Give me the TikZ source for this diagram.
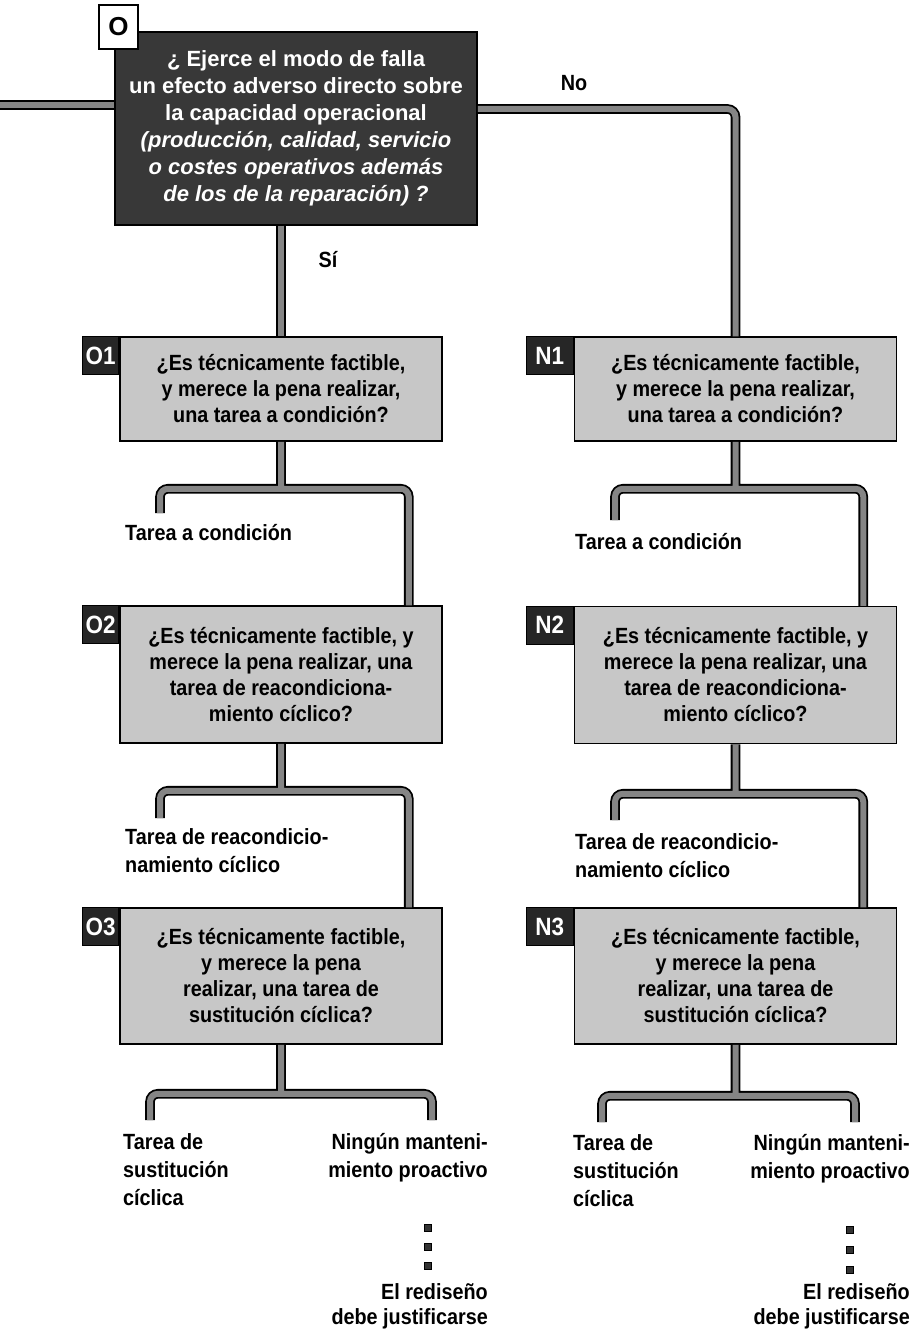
\documentclass[tikz,border=0pt]{standalone}
\usepackage{fontspec}
\setmainfont{Liberation Sans}[FakeStretch=0.9]
\newfontfamily\widefont{Liberation Sans}
\definecolor{topgray}{gray}{0.22}
\definecolor{boxgray}{gray}{0.78}
\definecolor{pipegray}{gray}{0.52}
\definecolor{taggray}{gray}{0.15}

\begin{document}
\begin{tikzpicture}[x=1pt,y=-1pt,
  font=\fontsize{22}{26}\selectfont\bfseries,
  qbox/.style={draw,line width=1.5pt,fill=boxgray,align=center,inner sep=0pt,minimum width=322pt},
  topbox/.style={draw,line width=1.5pt,fill=topgray,text=white,align=center,inner sep=0pt,
    minimum width=362pt,minimum height=193pt,font=\widefont\fontsize{22}{27}\selectfont\bfseries},
  tag/.style={draw,line width=1pt,fill=taggray,text=white,inner sep=0pt,minimum height=38pt,anchor=north east,
    font=\fontsize{25}{25}\selectfont\bfseries},
  pipe/.style={draw=black,line width=1.8pt,double=pipegray,double distance=6pt,rounded corners=8pt},
  outcome/.style={inner sep=0pt,font=\fontsize{22}{28}\selectfont\bfseries},
  sqmark/.style={draw=black,fill=black!80,minimum size=7pt,inner sep=0pt}]
  \useasboundingbox (0,0) rectangle (913,1332);

  % main question
  \node[topbox] (O) at (296,128.5) {¿ Ejerce el modo de falla\\un efecto adverso directo sobre\\la capacidad operacional\\
    \textit{(producción, calidad, servicio}\\\textit{o costes operativos además}\\\textit{de los de la reparación) ?}};
  \node[draw,line width=1.5pt,fill=white,minimum width=39pt,minimum height=44pt,inner sep=0pt,
    font=\widefont\fontsize{26}{26}\selectfont\bfseries] (Otag) at (118.5,27) {O};

  % left column
  \node[qbox,minimum height=104pt] (O1) at (281,389) {¿Es técnicamente factible,\\y merece la pena realizar,\\una tarea a condición?};
  \node[qbox,minimum height=137pt] (O2) at (281,674.5) {¿Es técnicamente factible, y\\merece la pena realizar, una\\tarea de reacondiciona-\\miento cíclico?};
  \node[qbox,minimum height=136pt] (O3) at (281,976) {¿Es técnicamente factible,\\y merece la pena\\realizar, una tarea de\\sustitución cíclica?};
  \node[tag,minimum width=36pt] (O1t) at (O1.north west) {O1};
  \node[tag,minimum width=36pt] (O2t) at (O2.north west) {O2};
  \node[tag,minimum width=36pt] (O3t) at (O3.north west) {O3};

  % right column
  \node[qbox,minimum height=104pt] (N1) at (735.5,389) {¿Es técnicamente factible,\\y merece la pena realizar,\\una tarea a condición?};
  \node[qbox,minimum height=137pt] (N2) at (735.5,675) {¿Es técnicamente factible, y\\merece la pena realizar, una\\tarea de reacondiciona-\\miento cíclico?};
  \node[qbox,minimum height=136pt] (N3) at (735.5,976) {¿Es técnicamente factible,\\y merece la pena\\realizar, una tarea de\\sustitución cíclica?};
  \node[tag,minimum width=47pt] (N1t) at (N1.north west) {N1};
  \node[tag,minimum width=47pt] (N2t) at (N2.north west) {N2};
  \node[tag,minimum width=47pt] (N3t) at (N3.north west) {N3};

  \node (no) at (574,83) {No};
  \node (si) at (328,260) {Sí};

  % outcomes
  \node[outcome,anchor=west] (oc1) at (125,533) {Tarea a condición};
  \node[outcome,anchor=north west,align=left] (or1) at (125,828) {Tarea de reacondicio-\\namiento cíclico};
  \node[outcome,anchor=north west,align=left] (os1) at (123,1133) {Tarea de\\sustitución\\cíclica};
  \node[outcome,anchor=north east,align=right] (nm1) at (488,1133) {Ningún manteni-\\miento proactivo};
  \node[outcome,anchor=north east,align=right,font=\fontsize{22}{25}\selectfont\bfseries] (rd1) at (488,1283) {El rediseño\\debe justificarse};
  \node[outcome,anchor=west] (oc2) at (575,542) {Tarea a condición};
  \node[outcome,anchor=north west,align=left] (or2) at (575,833) {Tarea de reacondicio-\\namiento cíclico};
  \node[outcome,anchor=north west,align=left] (os2) at (573,1134) {Tarea de\\sustitución\\cíclica};
  \node[outcome,anchor=north east,align=right] (nm2) at (910,1134) {Ningún manteni-\\miento proactivo};
  \node[outcome,anchor=north east,align=right,font=\fontsize{22}{25}\selectfont\bfseries] (rd2) at (910,1283) {El rediseño\\debe justificarse};
  \foreach \y in {1228,1247,1266} \node[sqmark] (sqa\y) at (428,\y) {};
  \foreach \y in {1230,1250,1270} \node[sqmark] (sqb\y) at (850,\y) {};

  % connectors
  \coordinate (feed) at (0,105);
  \draw[pipe] (feed) -- (feed -| O.west);
  \draw[pipe] ([yshift=19.5pt]O.east) -| (N1.north);
  \draw[pipe] (O1.north |- O.south) -- (O1.north);

  \coordinate (j1) at ([yshift=-47pt]O1.south);
  \coordinate (d1) at (160,513);
  \draw[pipe] (O1.south) -- (j1) (d1) |- (j1) -| ([xshift=-34pt]O2.north east);
  \coordinate (j2) at ([yshift=-47pt]O2.south);
  \coordinate (d2) at (160,818);
  \draw[pipe] (O2.south) -- (j2) (d2) |- (j2) -| ([xshift=-34pt]O3.north east);
  \coordinate (j3) at ([yshift=-49pt]O3.south);
  \coordinate (d3l) at (150,1120);
  \coordinate (d3r) at (432,1120);
  \draw[pipe] (O3.south) -- (j3) (d3l) |- (j3) -| (d3r);

  \coordinate (j4) at ([yshift=-47pt]N1.south);
  \coordinate (d4) at (615,520);
  \draw[pipe] (N1.south) -- (j4) (d4) |- (j4) -| ([xshift=-34pt]N2.north east);
  \coordinate (j5) at ([yshift=-49.5pt]N2.south);
  \coordinate (d5) at (615,820);
  \draw[pipe] (N2.south) -- (j5) (d5) |- (j5) -| ([xshift=-34pt]N3.north east);
  \coordinate (j6) at ([yshift=-51pt]N3.south);
  \coordinate (d6l) at (602,1122);
  \coordinate (d6r) at (855,1122);
  \draw[pipe] (N3.south) -- (j6) (d6l) |- (j6) -| (d6r);
\end{tikzpicture}
\end{document}
